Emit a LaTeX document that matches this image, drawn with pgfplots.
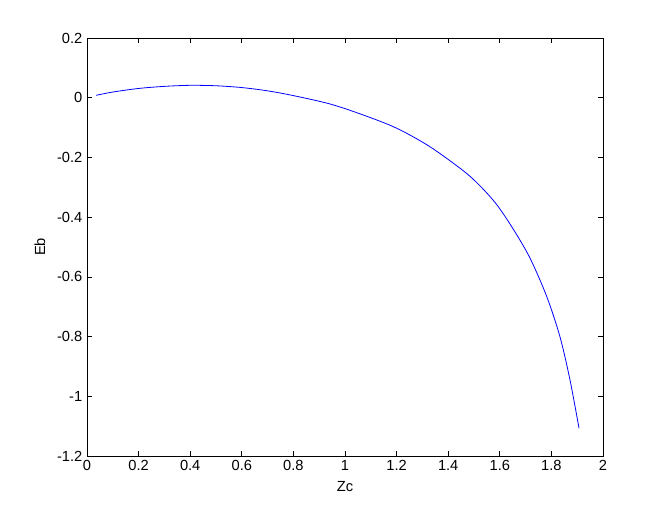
\documentclass[border=0pt]{standalone}
\usepackage{pgfplots}
\pgfplotsset{compat=1.18}
\usepackage{fontspec}
\setmainfont{Liberation Sans}
\begin{document}
\begin{tikzpicture}
\useasboundingbox (-65.25pt,-42.75pt) rectangle (434.25pt,342pt);
\begin{axis}[
  at={(0,0)}, anchor=south west,
  scale only axis,
  width=387pt, height=313.5pt,
  xmin=0, xmax=2, ymin=-1.2, ymax=0.2,
  xtick={0,0.2,...,2.01},
  ytick={-1.2,-1,-0.8,-0.6,-0.4,-0.2,0,0.2},
  tick align=inside,
  major tick length=4pt,
  tick style={black, line width=0.5pt},
  axis line style={line width=0.5pt},
  every tick label/.append style={font=\fontsize{11}{13}\selectfont},
  /pgf/number format/assume math mode=true,
  yticklabel style={/pgf/number format/fixed, /pgf/number format/precision=1},
  xticklabel style={/pgf/number format/fixed},
  xlabel={Zc}, ylabel={Eb},
  label style={font=\fontsize{11}{13}\selectfont},
  xlabel style={yshift=-1pt},
  ylabel style={yshift=2pt},
]
\addplot[blue, line width=0.6pt, smooth, tension=0.5] coordinates {
(0.035,0.008) (0.1,0.019) (0.2,0.031) (0.3,0.038) (0.4,0.0415) (0.5,0.040)
(0.6,0.034) (0.7,0.023) (0.8,0.007) (0.942,-0.021) (1.071,-0.058)
(1.2,-0.102) (1.329,-0.164) (1.459,-0.245) (1.523,-0.295) (1.588,-0.358)
(1.652,-0.440) (1.717,-0.537) (1.782,-0.666) (1.833,-0.80) (1.872,-0.945)
(1.907,-1.107)
};
\end{axis}
\end{tikzpicture}
\end{document}
